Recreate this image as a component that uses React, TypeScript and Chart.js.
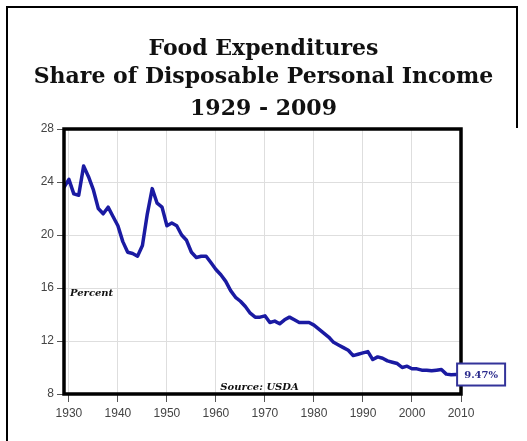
import React, { useEffect, useRef } from "react";
import { Chart, registerables } from "chart.js";

Chart.register(...registerables);

const TITLE_LINES = ["Food Expenditures", "Share of Disposable Personal Income", "1929 - 2009"];

const YEARS = [
  1929, 1930, 1931, 1932, 1933, 1934, 1935, 1936, 1937, 1938, 1939,
  1940, 1941, 1942, 1943, 1944, 1945, 1946, 1947, 1948, 1949,
  1950, 1951, 1952, 1953, 1954, 1955, 1956, 1957, 1958, 1959,
  1960, 1961, 1962, 1963, 1964, 1965, 1966, 1967, 1968, 1969,
  1970, 1971, 1972, 1973, 1974, 1975, 1976, 1977, 1978, 1979,
  1980, 1981, 1982, 1983, 1984, 1985, 1986, 1987, 1988, 1989,
  1990, 1991, 1992, 1993, 1994, 1995, 1996, 1997, 1998, 1999,
  2000, 2001, 2002, 2003, 2004, 2005, 2006, 2007, 2008, 2009,
];

const SHARE = [
  23.6, 24.2, 23.1, 23.0, 25.2, 24.4, 23.4, 22.0, 21.6, 22.1, 21.4,
  20.7, 19.5, 18.7, 18.6, 18.4, 19.2, 21.6, 23.5, 22.4, 22.1,
  20.7, 20.9, 20.7, 20.0, 19.6, 18.7, 18.3, 18.4, 18.4, 17.9,
  17.4, 17.0, 16.5, 15.8, 15.3, 15.0, 14.6, 14.1, 13.8, 13.8,
  13.9, 13.4, 13.5, 13.3, 13.6, 13.8, 13.6, 13.4, 13.4, 13.4,
  13.2, 12.9, 12.6, 12.3, 11.9, 11.7, 11.5, 11.3, 10.9, 11.0,
  11.1, 11.2, 10.6, 10.8, 10.7, 10.5, 10.4, 10.3, 10.0, 10.1,
  9.9, 9.9, 9.8, 9.8, 9.75, 9.8, 9.85, 9.5, 9.45, 9.47,
];

const X_TICKS = [1930, 1940, 1950, 1960, 1970, 1980, 1990, 2000, 2010];
const Y_TICKS = [8, 12, 16, 20, 24, 28];

const LAST_LABEL = "9.47%";
const Y_LABEL = "Percent";
const SOURCE = "Source: USDA";

const decorPlugin = {
  id: "decor",
  beforeDraw(chart: any) {
    const ctx = chart.ctx;
    ctx.save();
    // outer frame
    ctx.strokeStyle = "#000";
    ctx.lineWidth = 2;
    ctx.beginPath();
    ctx.moveTo(7, 445);
    ctx.lineTo(7, 7);
    ctx.lineTo(517, 7);
    ctx.lineTo(517, 128);
    ctx.stroke();
    // title
    ctx.fillStyle = "#111";
    ctx.textAlign = "center";
    ctx.textBaseline = "alphabetic";
    ctx.font = "bold 22px 'DejaVu Serif'";
    const baselines = [55, 83, 115];
    TITLE_LINES.forEach((t, i) => ctx.fillText(t, 263.5, baselines[i]));
    ctx.restore();
  },
  afterDraw(chart: any) {
    const ctx = chart.ctx;
    const a = chart.chartArea;
    const xs = chart.scales.x;
    const ys = chart.scales.y;
    ctx.save();
    // plot frame
    ctx.strokeStyle = "#000";
    ctx.lineWidth = 3.5;
    ctx.strokeRect(a.left, a.top, a.right - a.left, a.bottom - a.top);
    // inner labels
    ctx.fillStyle = "#111";
    ctx.textAlign = "left";
    ctx.textBaseline = "alphabetic";
    ctx.font = "italic bold 10px 'DejaVu Serif'";
    ctx.fillText(Y_LABEL, a.left + 6, ys.getPixelForValue(15.4));
    ctx.fillText(SOURCE, xs.getPixelForValue(1960.9), a.bottom - 4);
    // last value box
    const lx = xs.getPixelForValue(YEARS[YEARS.length - 1]);
    const ly = ys.getPixelForValue(SHARE[SHARE.length - 1]);
    const bx = lx + 1;
    const bw = 48;
    const bh = 22;
    ctx.fillStyle = "#fff";
    ctx.fillRect(bx, ly - bh / 2, bw, bh);
    ctx.strokeStyle = "#33339a";
    ctx.lineWidth = 2;
    ctx.strokeRect(bx, ly - bh / 2, bw, bh);
    ctx.fillStyle = "#2a2a8c";
    ctx.textAlign = "center";
    ctx.textBaseline = "middle";
    ctx.font = "bold 10px 'DejaVu Serif'";
    ctx.fillText(LAST_LABEL, bx + bw / 2, ly + 1);
    ctx.restore();
  },
};

export default function App() {
  const ref = useRef<HTMLCanvasElement | null>(null);
  useEffect(() => {
    if (!ref.current) return;
    const chart = new Chart(ref.current, {
      type: "line",
      data: {
        datasets: [
          {
            data: YEARS.map((y, i) => ({ x: y, y: SHARE[i] })),
            borderColor: "#1a1aa2",
            borderWidth: 3.5,
            borderJoinStyle: "round",
            borderCapStyle: "round",
            pointRadius: 0,
            tension: 0,
            fill: false,
          },
        ],
      },
      options: {
        animation: false,
        responsive: false,
        devicePixelRatio: 1,
        layout: { padding: { left: 0, right: 66, top: 129, bottom: 0 } },
        plugins: { legend: { display: false }, title: { display: false }, tooltip: { enabled: false } },
        scales: {
          x: {
            type: "linear",
            min: 1929,
            max: 2010,
            afterBuildTicks: (s: any) => {
              s.ticks = X_TICKS.map((v) => ({ value: v }));
            },
            afterFit: (s: any) => {
              s.height = 47;
            },
            border: { display: false },
            grid: { color: "#dedede", lineWidth: 1, tickColor: "#555", tickLength: 8 },
            ticks: {
              color: "#444",
              padding: 4,
              maxRotation: 0,
              autoSkip: false,
              font: { family: "'Liberation Sans'", size: 12 },
              callback: (v: any) => String(v),
            },
          },
          y: {
            min: 8,
            max: 28,
            afterBuildTicks: (s: any) => {
              s.ticks = Y_TICKS.map((v) => ({ value: v }));
            },
            afterFit: (s: any) => {
              s.width = 64;
            },
            border: { display: false },
            grid: { color: "#dedede", lineWidth: 1, tickColor: "#555", tickLength: 7 },
            ticks: {
              color: "#444",
              padding: 3,
              font: { family: "'Liberation Sans'", size: 12 },
            },
          },
        },
      },
      plugins: [decorPlugin],
    });
    return () => chart.destroy();
  }, []);
  return (
    <div style={{ position: "absolute", left: 0, top: 0, width: 527, height: 441, background: "#fff" }}>
      <canvas ref={ref} width={527} height={441} style={{ width: 527, height: 441, display: "block" }} />
    </div>
  );
}
